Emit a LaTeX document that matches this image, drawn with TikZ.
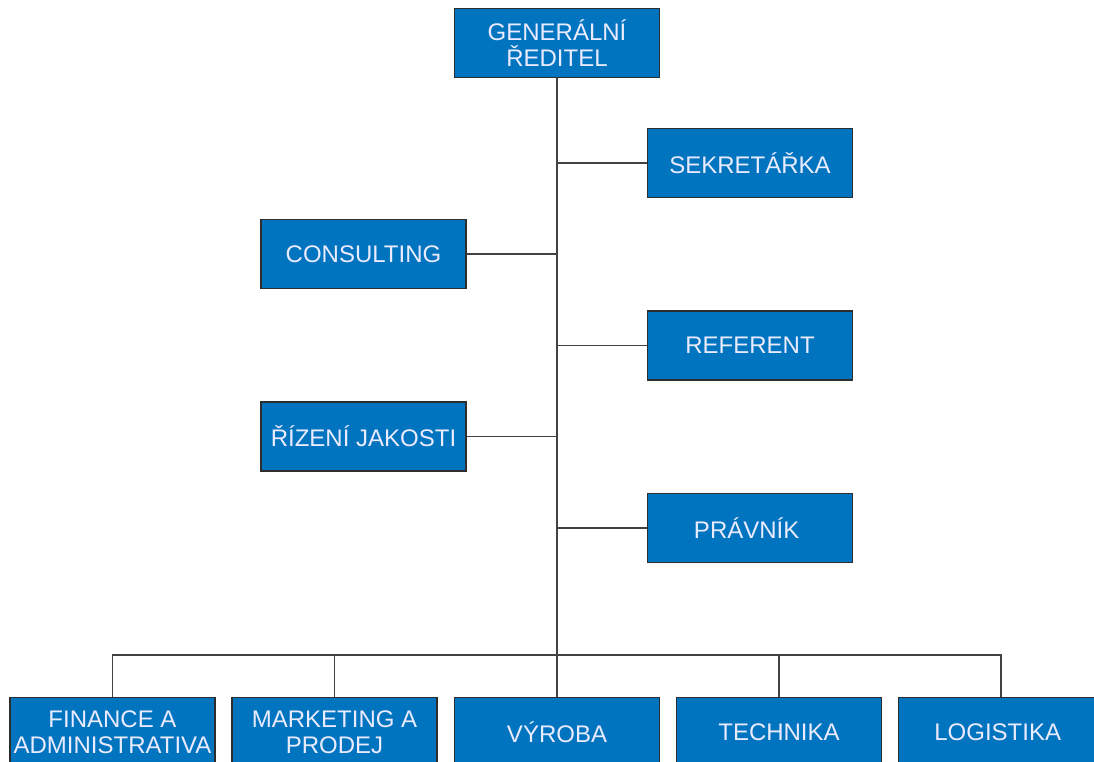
\documentclass[tikz,border=0pt]{standalone}
\usepackage{fontspec}
\setmainfont{Liberation Sans}
\definecolor{unitblue}{RGB}{0,116,191}
\definecolor{unitedge}{RGB}{45,45,45}
\begin{document}
\begin{tikzpicture}[x=1pt, y=-1pt]
    \tikzset{
      unit/.style={draw=unitedge, line width=1.2pt, fill=unitblue,
        text=white!92!blue, minimum width=205pt, minimum height=69pt,
        align=center, inner sep=0pt,
        font=\fontsize{24}{26}\selectfont},
      link/.style={draw=unitedge!90, line width=1.4pt},
    }
    \clip (0,0) rectangle (1094,762);
    \useasboundingbox (0,0) rectangle (1094,762);

    \node[unit] (ceo) at (557,43) {GENERÁLNÍ\\ŘEDITEL};

    % staff positions beside the trunk
    \path
    foreach \name/\x/\y/\txt in {
      sekr/750/163/SEKRETÁŘKA,
      cons/363.5/254/CONSULTING,
      ref/750/345.5/REFERENT,
      qual/363.5/436.5/ŘÍZENÍ JAKOSTI,
      law/750/528/PRÁVNÍK
    } { (\x,\y) node[unit] (\name) {\txt} };

    % departments
    \path
    foreach \name/\x/\txt in {
      fin/112.5/FINANCE A\\ADMINISTRATIVA,
      mkt/334.5/MARKETING A\\PRODEJ,
      prod/557/VÝROBA,
      tech/779/TECHNIKA,
      logi/1001/LOGISTIKA
    } { (\x,732) node[unit] (\name) {\txt} };

    \coordinate (bus) at (557,655);

    \draw[link] (ceo.south) -- (prod.north);
    \draw[link]
    foreach \name in {sekr,ref,law} { (\name.west) -- (\name.west -| ceo.south) }
    foreach \name in {cons,qual} { (\name.east) -- (\name.east -| ceo.south) };
    \draw[link] (fin.north) |- (bus) -| (logi.north);
    \draw[link]
    foreach \name in {mkt,tech} { (\name.north) -- (\name.north |- bus) };
\end{tikzpicture}
\end{document}
